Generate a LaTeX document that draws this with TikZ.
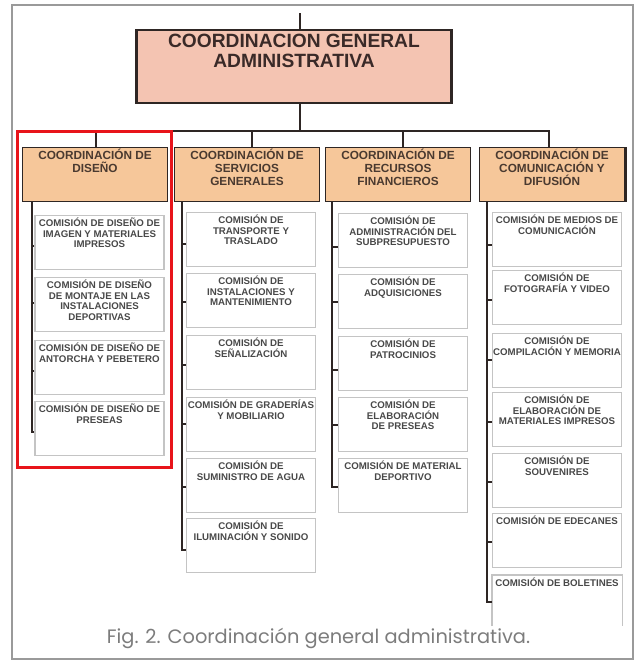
\documentclass[tikz,border=0pt]{standalone}
\usepackage{fontspec}
\setmainfont{Liberation Sans}
\newfontfamily\captionfont{Poppins}
\usetikzlibrary{calc}

\definecolor{salmon}{HTML}{F4C4B2}
\definecolor{tanbox}{HTML}{F6C79A}
\definecolor{ink}{HTML}{2E2624}
\definecolor{gentxt}{HTML}{3A2A28}
\definecolor{coordtxt}{HTML}{4A3A30}
\definecolor{comtxt}{HTML}{484848}
\definecolor{comline}{HTML}{C4C4C4}
\definecolor{framegray}{HTML}{9A9A9A}
\definecolor{redmark}{HTML}{E8141A}
\definecolor{captxt}{HTML}{7C7C7C}

\begin{document}
\begin{tikzpicture}[
  x=1pt, y=-1pt,
  %% ── Box styles ──────────────────────────────────────────────────────────
  general/.style={
    draw=ink, fill=salmon, line width=2.5pt,
    minimum width=315pt, minimum height=73pt,
    anchor=north, inner sep=0pt
  },
  coord/.style={
    draw=ink, fill=tanbox, line width=1.4pt,
    minimum width=145pt, minimum height=54pt,
    anchor=north, inner sep=0pt
  },
  comision/.style={
    draw=comline, line width=1.1pt,
    minimum width=129pt, minimum height=54pt,
    anchor=north, inner sep=0pt
  },
  %% ── Text styles ─────────────────────────────────────────────────────────
  gentext/.style={
    anchor=north, yshift=-5.5pt, inner sep=0pt, align=center, text=gentxt,
    font=\fontsize{19.2}{20}\selectfont\bfseries
  },
  coordtext/.style={
    anchor=north, yshift=-1.5pt, inner sep=0pt, align=center, text=coordtxt,
    font=\fontsize{11.8}{13}\selectfont\bfseries
  },
  comtext/.style={
    anchor=north, yshift=-3pt, inner sep=0pt, align=center, text=comtxt,
    font=\fontsize{9.7}{10.5}\selectfont\bfseries
  },
  %% ── Line styles ─────────────────────────────────────────────────────────
  conn/.style={draw=ink, line width=1.4pt},
]

\useasboundingbox (0,0) rectangle (637,662);

%% ═══════════════════════════════════════════════════════════════════════════
%% FRAME
%% ═══════════════════════════════════════════════════════════════════════════

\draw[framegray, line width=1.5pt] (12,5) rectangle (633,659);

%% ═══════════════════════════════════════════════════════════════════════════
%% TOP LEVEL
%% ═══════════════════════════════════════════════════════════════════════════

\node[general, label={[gentext]north:{COORDINACION GENERAL\\ADMINISTRATIVA}}]
  (cga) at (294, 28.5) {};

\coordinate (top) at (300, 13);
\coordinate (bus) at (300, 131);

\draw[conn] (top) -- (top |- cga.north);
\draw[conn] (cga.south -| bus) -- (bus);

%% ═══════════════════════════════════════════════════════════════════════════
%% COORDINATIONS
%% ═══════════════════════════════════════════════════════════════════════════

\node[coord, label={[coordtext]north:{COORDINACIÓN DE\\DISEÑO}}]
  (cd) at (95, 147) {};

\node[coord, label={[coordtext]north:{COORDINACIÓN DE\\SERVICIOS\\GENERALES}}]
  (cs) at (247, 147) {};

\node[coord, label={[coordtext]north:{COORDINACIÓN DE\\RECURSOS\\FINANCIEROS}}]
  (cr) at (398, 147) {};

\node[coord, label={[coordtext]north:{COORDINACIÓN DE\\COMUNICACIÓN Y\\DIFUSIÓN}}]
  (cm) at (552, 147) {};

\draw[ink, line width=3pt] (cm.north east) -- (cm.south east);

\draw[conn] ([xshift=1pt]cd.north) |- (bus) -| ([xshift=5pt]cs.north);
\draw[conn] (bus) -| ([xshift=5pt]cr.north);
\draw[conn] (bus) -| ([xshift=-3pt]cm.north);

%% ═══════════════════════════════════════════════════════════════════════════
%% DISEÑO
%% ═══════════════════════════════════════════════════════════════════════════

\node[comision, label={[comtext]north:{COMISIÓN DE DISEÑO DE\\IMAGEN Y MATERIALES\\IMPRESOS}}]
  (d1) at (99.5, 215) {};
\node[comision, label={[comtext]north:{COMISIÓN DE DISEÑO\\DE MONTAJE EN LAS\\INSTALACIONES\\DEPORTIVAS}}]
  (d2) at (99.5, 277) {};
\node[comision, label={[comtext]north:{COMISIÓN DE DISEÑO DE\\ANTORCHA Y PEBETERO}}]
  (d3) at (99.5, 340) {};
\node[comision, label={[comtext]north:{COMISIÓN DE DISEÑO DE\\PRESEAS}}]
  (d4) at (99.5, 401) {};

\coordinate (vd) at (32, 0);
\draw[conn] (cd.south -| vd) |- ($(d4.north west)+(0,31)$);
\draw[conn] ($(d1.north west)+(0,31)$) -- ++(-3.5,0);
\draw[conn] ($(d2.north west)+(0,26)$) -- ++(-3.5,0);
\draw[conn] ($(d3.north west)+(0,31)$) -- ++(-3.5,0);

%% ═══════════════════════════════════════════════════════════════════════════
%% SERVICIOS GENERALES
%% ═══════════════════════════════════════════════════════════════════════════

\node[comision, label={[comtext]north:{COMISIÓN DE\\TRANSPORTE Y\\TRASLADO}}]
  (s1) at (251, 212) {};
\node[comision, label={[comtext]north:{COMISIÓN DE\\INSTALACIONES Y\\MANTENIMIENTO}}]
  (s2) at (251, 273) {};
\node[comision, label={[comtext]north:{COMISIÓN DE\\SEÑALIZACIÓN}}]
  (s3) at (251, 335) {};
\node[comision, label={[comtext]north:{COMISIÓN DE GRADERÍAS\\Y MOBILIARIO}}]
  (s4) at (251, 397) {};
\node[comision, label={[comtext]north:{COMISIÓN DE\\SUMINISTRO DE AGUA}}]
  (s5) at (251, 458) {};
\node[comision, label={[comtext]north:{COMISIÓN DE\\ILUMINACIÓN Y SONIDO}}]
  (s6) at (251, 518) {};

\coordinate (vs) at (182, 0);
\draw[conn] (cs.south -| vs) |- ($(s6.north west)+(0,32)$);
\draw[conn] ($(s1.north west)+(0,32)$) -- ++(-4.5,0);
\draw[conn] ($(s2.north west)+(0,29)$) -- ++(-4.5,0);
\draw[conn] ($(s3.north west)+(0,30)$) -- ++(-4.5,0);
\draw[conn] ($(s4.north west)+(0,27)$) -- ++(-4.5,0);
\draw[conn] ($(s5.north west)+(0,29)$) -- ++(-4.5,0);

%% ═══════════════════════════════════════════════════════════════════════════
%% RECURSOS FINANCIEROS
%% ═══════════════════════════════════════════════════════════════════════════

\node[comision, label={[comtext]north:{COMISIÓN DE\\ADMINISTRACIÓN DEL\\SUBPRESUPUESTO}}]
  (r1) at (403, 213) {};
\node[comision, label={[comtext]north:{COMISIÓN DE\\ADQUISICIONES}}]
  (r2) at (403, 274) {};
\node[comision, label={[comtext]north:{COMISIÓN DE\\PATROCINIOS}}]
  (r3) at (403, 336) {};
\node[comision, label={[comtext]north:{COMISIÓN DE\\ELABORACIÓN\\DE PRESEAS}}]
  (r4) at (403, 397) {};
\node[comision, label={[comtext]north:{COMISIÓN DE MATERIAL\\DEPORTIVO}}]
  (r5) at (403, 458) {};

\coordinate (vr) at (332, 0);
\draw[conn] (cr.south -| vr) |- ($(r5.north west)+(0,29)$);
\draw[conn] ($(r1.north west)+(0,34)$) -- ++(-6,0);
\draw[conn] ($(r2.north west)+(0,28)$) -- ++(-6,0);
\draw[conn] ($(r3.north west)+(0,34)$) -- ++(-6,0);
\draw[conn] ($(r4.north west)+(0,28)$) -- ++(-6,0);

%% ═══════════════════════════════════════════════════════════════════════════
%% COMUNICACIÓN Y DIFUSIÓN
%% ═══════════════════════════════════════════════════════════════════════════

\node[comision, label={[comtext]north:{COMISIÓN DE MEDIOS DE\\COMUNICACIÓN}}]
  (m1) at (557, 212) {};
\node[comision, label={[comtext]north:{COMISIÓN DE\\FOTOGRAFÍA Y VIDEO}}]
  (m2) at (557, 270) {};
\node[comision, label={[comtext]north:{COMISIÓN DE\\COMPILACIÓN Y MEMORIA}}]
  (m3) at (557, 333) {};
\node[comision, label={[comtext]north:{COMISIÓN DE\\ELABORACIÓN DE\\MATERIALES IMPRESOS}}]
  (m4) at (557, 392) {};
\node[comision, label={[comtext]north:{COMISIÓN DE\\SOUVENIRES}}]
  (m5) at (557, 453) {};
\node[comision, label={[comtext]north:{COMISIÓN DE EDECANES}}]
  (m6) at (557, 513) {};
\node[comision, draw=none, minimum height=50pt, label={[comtext]north:{COMISIÓN DE BOLETINES}}]
  (m7) at (557, 575) {};

%% — last box is cut open at the bottom ──────────────────────────────────────
\draw[comline, line width=1.1pt]
  (m7.south west) -- (m7.north west) -- (m7.north east) -- (m7.south east);

\coordinate (vm) at (487, 0);
\draw[conn] (cm.south -| vm) |- ($(m7.north west)+(0,27)$);
\draw[conn] ($(m1.north west)+(0,33)$) -- ++(-5.5,0);
\draw[conn] ($(m2.north west)+(0,30)$) -- ++(-5.5,0);
\draw[conn] ($(m3.north west)+(0,27)$) -- ++(-5.5,0);
\draw[conn] ($(m4.north west)+(0,30)$) -- ++(-5.5,0);
\draw[conn] ($(m5.north west)+(0,29)$) -- ++(-5.5,0);
\draw[conn] ($(m6.north west)+(0,29)$) -- ++(-5.5,0);

%% ═══════════════════════════════════════════════════════════════════════════
%% HIGHLIGHT AND CAPTION
%% ═══════════════════════════════════════════════════════════════════════════

\draw[redmark, line width=3pt] (17,131) rectangle (171,467);

\node[font=\captionfont\fontsize{19.4}{22}\selectfont, text=captxt]
  (caption) at (318.5, 638) {Fig. 2. Coordinación general administrativa.};

\end{tikzpicture}
\end{document}
